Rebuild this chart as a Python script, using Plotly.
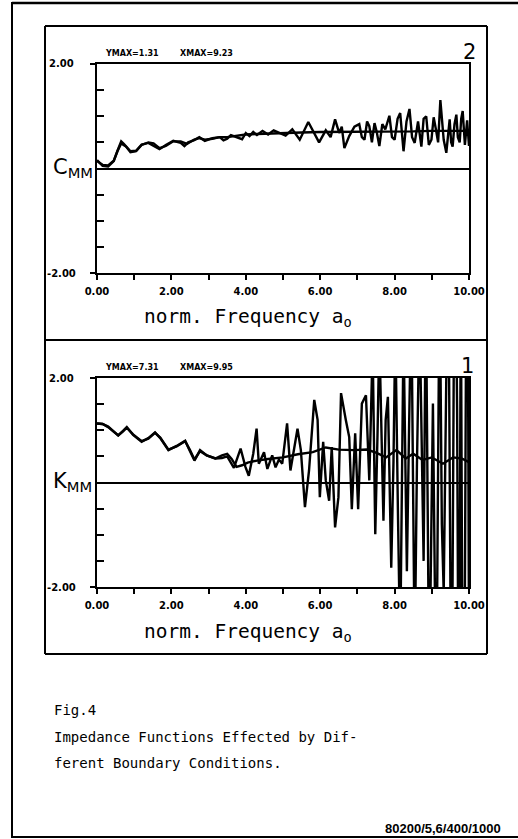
import plotly.graph_objects as go

W, H = 518, 839

# ---------------- data ----------------
# upper panel (C_MM): smooth reference curve and noisy curve
c_smooth_x = [0, 0.15, 0.3, 0.45, 0.55, 0.65, 0.78, 0.9, 1.05, 1.2, 1.38, 1.52, 1.68, 1.85, 2.05,
              2.25, 2.42, 2.6, 2.75, 2.9, 3.1, 3.3, 3.5, 3.75, 4.0, 4.3, 4.6, 5.0, 5.5, 6.0, 6.5,
              7.0, 7.5, 8.0, 8.5, 9.0, 9.5, 10.0]
c_smooth_y = [0.14, 0.07, 0.06, 0.15, 0.33, 0.48, 0.42, 0.31, 0.33, 0.45, 0.5, 0.48, 0.39, 0.43, 0.52,
              0.52, 0.47, 0.55, 0.58, 0.55, 0.57, 0.6, 0.6, 0.63, 0.65, 0.66, 0.67, 0.68, 0.69, 0.7, 0.7,
              0.7, 0.71, 0.71, 0.71, 0.72, 0.72, 0.72]

c_noisy_x = [0, 0.15, 0.3, 0.45, 0.55, 0.65, 0.72, 0.8, 0.9, 1.05, 1.2, 1.38, 1.5, 1.6, 1.68, 1.85,
             2.05, 2.25, 2.35, 2.45, 2.6, 2.75, 2.9, 3.1, 3.3, 3.4, 3.5, 3.6, 3.75, 3.9, 4.0, 4.1,
             4.2, 4.3, 4.45, 4.6, 4.75, 4.9, 5.07, 5.25, 5.45, 5.68, 5.84, 5.97, 6.15, 6.28, 6.4, 6.51,
             6.58, 6.65, 6.78, 6.92, 7.05, 7.12, 7.19, 7.26, 7.32, 7.39, 7.46, 7.52, 7.59, 7.67, 7.75,
             7.86, 7.93, 8.0, 8.08, 8.15, 8.24, 8.32, 8.4, 8.47, 8.54, 8.63, 8.72, 8.78, 8.85, 8.92,
             8.99, 9.05, 9.11, 9.17, 9.23, 9.28, 9.32, 9.39, 9.44, 9.48, 9.52, 9.56, 9.61, 9.66, 9.7,
             9.75, 9.79, 9.83, 9.89, 9.95, 10.0]
c_noisy_y = [0.16, 0.05, 0.04, 0.14, 0.34, 0.52, 0.47, 0.4, 0.33, 0.34, 0.46, 0.49, 0.44, 0.4, 0.37,
             0.45, 0.53, 0.49, 0.43, 0.5, 0.54, 0.6, 0.53, 0.58, 0.6, 0.54, 0.57, 0.64, 0.6, 0.56,
             0.68, 0.62, 0.7, 0.64, 0.72, 0.65, 0.73, 0.68, 0.63, 0.75, 0.55, 0.89, 0.68, 0.5, 0.73,
             0.6, 0.94, 0.68, 0.8, 0.39, 0.62, 0.8, 0.85, 0.6, 0.55, 0.9, 0.81, 0.5, 0.87, 0.7, 0.43,
             0.85, 0.75, 1.01, 0.6, 0.55, 0.95, 1.06, 0.33, 0.9, 1.14, 0.6, 0.49, 0.9, 0.42, 0.95,
             1.0, 0.45, 0.55, 0.98, 0.75, 0.5, 1.31, 0.8, 0.55, 0.3, 0.7, 0.94, 0.5, 0.42, 0.85, 1.03,
             0.6, 0.5, 0.95, 1.1, 0.45, 0.92, 0.43]

# lower panel (K_MM)
k_smooth_x = [0, 0.15, 0.3, 0.45, 0.57, 0.7, 0.8, 0.97, 1.2, 1.38, 1.56, 1.7, 1.92, 2.14, 2.37, 2.5,
              2.62, 2.77, 2.95, 3.18, 3.36, 3.5, 3.62, 3.75, 3.9, 4.05, 4.3, 4.6, 5.0, 5.4, 5.8, 6.15,
              6.5, 6.9, 7.25, 7.5, 7.77, 8.05, 8.3, 8.5, 8.75, 9.0, 9.3, 9.57, 9.8, 10.0]
k_smooth_y = [1.13, 1.12, 1.07, 0.98, 0.9, 0.98, 1.05, 0.92, 0.79, 0.84, 0.95, 0.86, 0.63, 0.69, 0.79,
              0.62, 0.44, 0.6, 0.52, 0.46, 0.52, 0.55, 0.45, 0.3, 0.33, 0.38, 0.42, 0.45, 0.48, 0.54,
              0.58, 0.67, 0.63, 0.62, 0.63, 0.57, 0.48, 0.62, 0.46, 0.55, 0.43, 0.48, 0.36, 0.48, 0.46,
              0.39]

k_noisy_x = [0, 0.15, 0.3, 0.45, 0.57, 0.7, 0.8, 0.97, 1.2, 1.38, 1.56, 1.7, 1.92, 2.14, 2.37, 2.5,
             2.62, 2.77, 2.95, 3.18, 3.36, 3.5, 3.68, 3.86, 3.99, 4.08, 4.2, 4.29, 4.35, 4.49, 4.58,
             4.71, 4.8, 4.89, 4.98, 5.11, 5.2, 5.39, 5.48, 5.59, 5.7, 5.84, 5.93, 5.99, 6.08, 6.15,
             6.24, 6.31, 6.4, 6.49, 6.56, 6.69, 6.78, 6.85, 6.94, 7.02, 7.12, 7.23, 7.32, 7.41, 7.48,
             7.54, 7.59, 7.7, 7.76, 7.82, 7.91, 7.97, 8.02, 8.09, 8.15, 8.24, 8.33, 8.39, 8.45, 8.54,
             8.6, 8.67, 8.78, 8.84, 8.93, 8.98, 9.03, 9.12, 9.21, 9.27, 9.32, 9.44, 9.53, 9.62, 9.68,
             9.73, 9.78, 9.83, 9.89, 9.95, 10.0]
k_noisy_y = [1.13, 1.12, 1.06, 0.97, 0.9, 0.99, 1.06, 0.91, 0.78, 0.85, 0.96, 0.85, 0.62, 0.7, 0.8,
             0.6, 0.42, 0.62, 0.52, 0.46, 0.47, 0.5, 0.28, 0.65, 0.3, 0.13, 0.55, 1.03, 0.36, 0.58,
             0.26, 0.52, 0.29, 0.44, 0.36, 1.13, 0.23, 1.03, 0.62, -0.47, 0.23, 1.58, 1.2, -0.28,
             0.78, 0.04, -0.35, 0.68, -0.86, -0.28, 1.71, 1.19, 0.87, -0.51, 0.94, -0.51, 1.51, 1.67,
             0.04, 2.6, -0.99, 0.9, 2.8, -0.73, 1.2, 1.64, -1.63, 0.4, 3.0, -0.6, -3.2, 2.9, -1.7,
             1.1, 3.5, -3.4, 0.3, 3.3, -1.5, 3.8, -4.0, -1.3, 1.51, -4.5, 4.2, -0.8, -2.1, 5.0, -5.5,
             6.0, 1.4, -6.2, 4.0, -5.0, -2.0, 7.31, -3.0]

x_tick_vals = [0, 2, 4, 6, 8, 10]
x_tick_text = ["0.00", "2.00", "4.00", "6.00", "8.00", "10.00"]
y_tick_vals = [-2, -1.5, -1, -0.5, 0, 0.5, 1, 1.5, 2]
y_label_text = ["-2.00", "2.00"]

# ---------------- helpers ----------------
def px(x):
    return x / W

def py(y):
    return 1 - y / H

LINE = dict(color="black", width=2.4)

fig = go.Figure()
fig.add_trace(go.Scatter(x=c_smooth_x, y=c_smooth_y, mode="lines", line=LINE,
                         xaxis="x", yaxis="y", showlegend=False))
fig.add_trace(go.Scatter(x=c_noisy_x, y=c_noisy_y, mode="lines", line=LINE,
                         xaxis="x", yaxis="y", showlegend=False))
fig.add_trace(go.Scatter(x=k_smooth_x, y=k_smooth_y, mode="lines", line=LINE,
                         xaxis="x2", yaxis="y2", showlegend=False))
fig.add_trace(go.Scatter(x=k_noisy_x, y=k_noisy_y, mode="lines", line=LINE,
                         xaxis="x2", yaxis="y2", showlegend=False))

tick_font = dict(family="DejaVu Sans", size=10, color="black", weight="bold")

def xaxis_cfg(anchor):
    return dict(domain=[px(97), px(469)], range=[0, 10], anchor=anchor,
                showline=True, mirror=True, linecolor="black", linewidth=2,
                showgrid=False, zeroline=False, ticks="outside", ticklen=5,
                tickwidth=2, tickcolor="black",
                tickvals=x_tick_vals, ticktext=x_tick_text, tickfont=tick_font,
                minor=dict(ticks="outside", dtick=1, ticklen=5, tickwidth=2,
                           tickcolor="black", showgrid=False),
                ticklabelstandoff=3, fixedrange=True)

def yaxis_cfg(anchor, top, bottom):
    return dict(domain=[py(bottom), py(top)], range=[-2, 2], anchor=anchor,
                showline=True, mirror=True, linecolor="black", linewidth=2,
                showgrid=False, zeroline=True, zerolinecolor="black", zerolinewidth=2,
                ticks="inside", ticklen=7, tickwidth=2, tickcolor="black",
                tickvals=y_tick_vals, showticklabels=False, fixedrange=True)

shapes = []
def seg(x0, y0, x1, y1, w=1.5):
    shapes.append(dict(type="line", xref="paper", yref="paper",
                       x0=px(x0), y0=py(y0), x1=px(x1), y1=py(y1),
                       line=dict(color="black", width=w)))

# outer frame
seg(12, 2, 12, 838, 2)
seg(12, 3, 518, 3, 2.5)
seg(12, 837, 518, 837, 2)
# panel boxes
for (t, b) in [(26, 340), (340, 654)]:
    seg(45, t, 487, t, 2)
    seg(45, b, 487, b, 2)
    seg(45, t, 45, b, 2)
    seg(487, t, 487, b, 2)
# frame lines extended left past the y axis
for yy in [64, 273, 378, 587]:
    seg(90, yy, 97, yy, 2)

annotations = []
def txt(x, y, s, size, family="DejaVu Sans", bold=False, xanchor="left", yanchor="middle"):
    f = dict(family=family, size=size, color="black")
    if bold:
        f["weight"] = "bold"
    annotations.append(dict(x=px(x), y=py(y), xref="paper", yref="paper", text=s,
                            showarrow=False, xanchor=xanchor, yanchor=yanchor, font=f))

mono = "DejaVu Sans Mono"
# upper panel texts
txt(47, 64, y_label_text[1], 10, bold=True)
txt(45, 273, y_label_text[0], 10, bold=True)
txt(103, 54, "YMAX=1.31", 8, bold=True)
txt(178, 54, "XMAX=9.23", 8, bold=True)
txt(478, 52, "2", 21, xanchor="right")
txt(51, 168, "C<sub>MM</sub>", 21)
txt(142, 318, "norm. Frequency a<sub>o</sub>", 19.5, family=mono)
# lower panel texts
txt(47, 378, y_label_text[1], 10, bold=True)
txt(45, 587, y_label_text[0], 10, bold=True)
txt(103, 367, "YMAX=7.31", 8, bold=True)
txt(178, 367, "XMAX=9.95", 8, bold=True)
txt(476, 366, "1", 21, xanchor="right")
txt(51, 482, "K<sub>MM</sub>", 21)
txt(142, 632, "norm. Frequency a<sub>o</sub>", 19.5, family=mono)
# caption
txt(52, 710, "Fig.4", 14, family=mono)
txt(52, 737, "Impedance Functions Effected by Dif-", 14, family=mono)
txt(52, 763, "ferent Boundary Conditions.", 14, family=mono)
txt(503, 828, "80200/5,6/400/1000", 13, family="Liberation Sans", bold=True, xanchor="right")

fig.update_layout(
    width=W, height=H,
    margin=dict(l=0, r=0, t=0, b=0, autoexpand=False),
    autosize=False,
    paper_bgcolor="white", plot_bgcolor="white",
    xaxis=xaxis_cfg("y"), yaxis=yaxis_cfg("x", 64, 273),
    xaxis2=xaxis_cfg("y2"), yaxis2=yaxis_cfg("x2", 378, 587),
    shapes=shapes, annotations=annotations, showlegend=False,
)

fig.write_html("out.html", config={"displayModeBar": False, "responsive": False})
